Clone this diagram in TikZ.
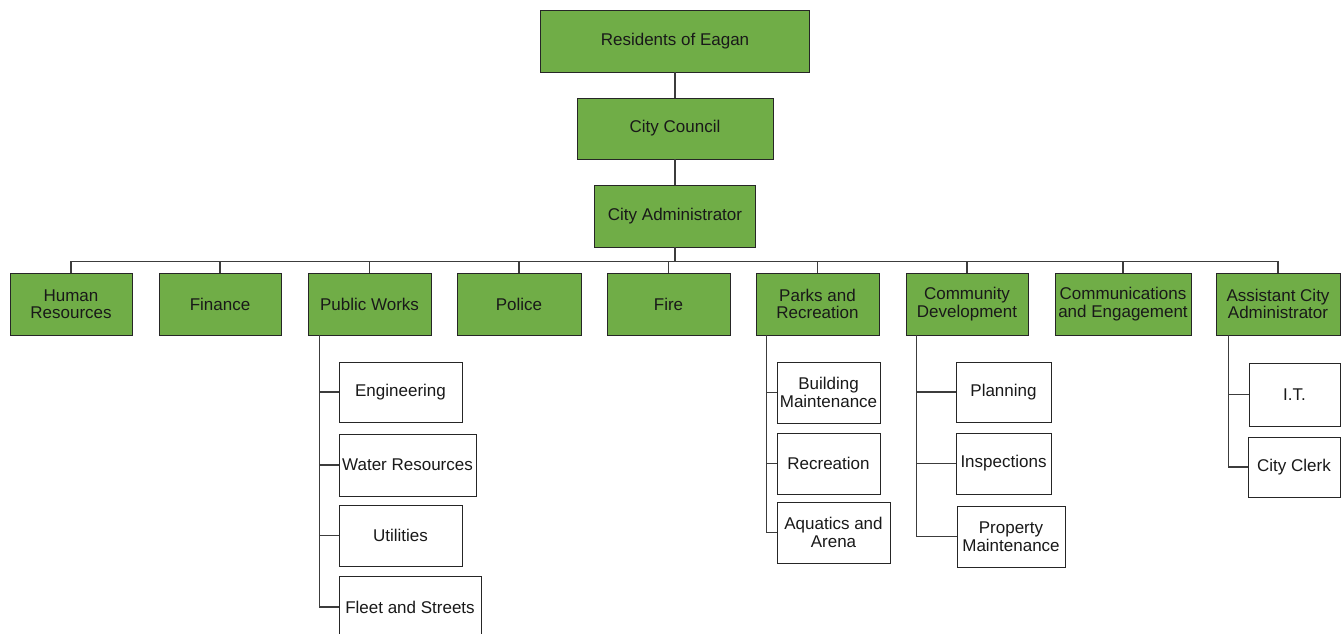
\documentclass[tikz,border=0pt]{standalone}
\usepackage{fontspec}
\setmainfont{Liberation Sans}
\definecolor{boxgreen}{HTML}{70AD47}
\definecolor{linegray}{HTML}{3C3C3C}
\begin{document}
\begin{tikzpicture}[x=1pt,y=-1pt,
  base/.style={draw=black!85,line width=0.9pt,align=center,inner sep=1pt,
    font=\fontsize{17}{17.5}\selectfont,text=black!90},
  gbox/.style={base,fill=boxgreen,minimum height=62pt},
  wbox/.style={base,fill=white,minimum height=61pt},
  conn/.style={draw=linegray,line width=1.4pt}]
\useasboundingbox (0,0) rectangle (1343,634);
\clip (0,0) rectangle (1343,634);
\fill[white] (0,0) rectangle (1343,634);
% top chain
\node[gbox,minimum width=269pt] (res) at (675,41) {Residents of Eagan};
\node[gbox,minimum width=196pt,minimum height=61pt] (cc) at (675,128.5) {City Council};
\node[gbox,minimum width=161pt] (adm) at (675,216) {City Administrator};
% departments
\node[gbox,minimum width=122pt] (hr) at (71,304) {Human\\Resources};
\node[gbox,minimum width=122pt] (fin) at (220,304) {Finance};
\node[gbox,minimum width=123pt] (pw) at (369.5,304) {Public Works};
\node[gbox,minimum width=124pt] (pol) at (519,304) {Police};
\node[gbox,minimum width=123pt] (fire) at (668.5,304) {Fire};
\node[gbox,minimum width=123pt] (park) at (817.5,304) {Parks and\\Recreation};
\node[gbox,minimum width=122pt] (cd) at (967,304) {Community\\Development};
\node[gbox,minimum width=136pt] (com) at (1123,304) {Communications\\and Engagement};
\node[gbox,minimum width=124pt] (aca) at (1278,304) {Assistant City\\Administrator};
% public works children
\node[wbox,minimum width=123pt,minimum height=60pt] (eng) at (400.5,392) {Engineering};
\node[wbox,minimum width=137pt,minimum height=62pt] (wat) at (407.5,465) {Water Resources};
\node[wbox,minimum width=123pt] (uti) at (400.5,535.5) {Utilities};
\node[wbox,minimum width=142pt,minimum height=62pt] (fle) at (410,607) {Fleet and Streets};
% parks children
\node[wbox,minimum width=103pt] (bld) at (828.5,392.5) {Building\\Maintenance};
\node[wbox,minimum width=103pt] (rec) at (828.5,463.5) {Recreation};
\node[wbox,minimum width=113pt] (aqu) at (833.5,532.5) {Aquatics and\\Arena};
% community development children
\node[wbox,minimum width=95pt,minimum height=60pt] (pla) at (1003.5,392) {Planning};
\node[wbox,minimum width=95pt] (ins) at (1003.5,463.5) {Inspections};
\node[wbox,minimum width=108pt] (pro) at (1011,536.5) {Property\\Maintenance};
% assistant children
\node[wbox,minimum width=91pt,minimum height=63pt] (it) at (1294.5,394.5) {I.T.};
\node[wbox,minimum width=92pt,minimum height=60pt] (clk) at (1294,467) {City Clerk};
% connectors
\draw[conn] (res.south) -- (cc.north);
\draw[conn] (cc.south) -- (adm.north);
\foreach \d in {hr,fin,pw,pol,fire,park,cd,com,aca}
  \draw[conn] (adm.south) -- ++(0,14) -| (\d.north);
\foreach \c in {eng,wat,uti,fle}
  \draw[conn] ([xshift=12pt]pw.south west) |- (\c.west);
\foreach \c in {bld,rec,aqu}
  \draw[conn] ([xshift=11pt]park.south west) |- (\c.west);
\foreach \c in {pla,ins,pro}
  \draw[conn] ([xshift=11pt]cd.south west) |- (\c.west);
\foreach \c in {it,clk}
  \draw[conn] ([xshift=13pt]aca.south west) |- (\c.west);
\end{tikzpicture}
\end{document}
